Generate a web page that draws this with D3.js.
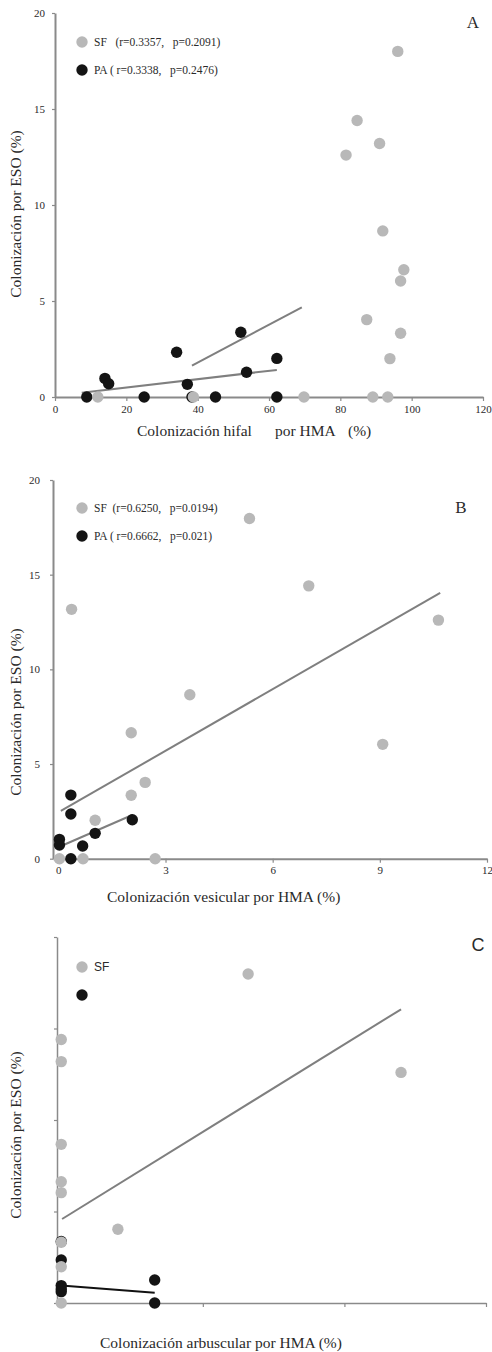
<!DOCTYPE html>
<html>
<head>
<meta charset="utf-8">
<script src="https://cdn.jsdelivr.net/npm/d3@7"></script>
<style>
  body { margin: 0; background: #fff; }
  svg { display: block; }
  .serif { font-family: "Liberation Serif", "Times New Roman", serif; fill: #2a2a2a; }
  .sans { font-family: "Liberation Sans", Arial, sans-serif; fill: #2a2a2a; }
  .pre { white-space: pre; }
</style>
</head>
<body>
<div id="chart"></div>
<script>
// ---- panel A: hifal ----
const sfAx = [96.1, 84.7, 91.0, 81.6, 91.9, 97.8, 96.9, 87.4, 96.9, 93.9, 12.0, 38.8, 69.8, 89.1, 93.3]
const sfAy = [18.0, 14.4, 13.2, 12.6, 8.65, 6.63, 6.04, 4.03, 3.32, 2.0, 0, 0, 0, 0, 0]
const paAx = [8.9, 14.0, 15.05, 25.0, 34.1, 37.1, 38.4, 45.0, 52.1, 53.7, 62.2, 62.2]
const paAy = [0, 0.97, 0.69, 0, 2.33, 0.66, 0, 0, 3.37, 1.29, 2.01, 0]
const fitSfA = [[38.4, 1.63], [69.2, 4.67]]
const fitPaA = [[7.5, 0.22], [62.2, 1.41]]
const ticksAx = [0, 20, 40, 60, 80, 100, 120]
const ticksAy = [0, 5, 10, 15, 20]

// ---- panel B: vesicular ----
const sfBx = [5.35, 0.37, 7.01, 10.64, 3.68, 2.04, 9.08, 2.43, 2.04, 1.03, 0.03, 0.69, 2.71]
const sfBy = [17.97, 13.17, 14.41, 12.6, 8.66, 6.65, 6.04, 4.03, 3.35, 2.03, 0, 0, 0]
const paBx = [0.35, 0.35, 2.07, 1.03, 0.03, 0.03, 0.68, 0.35]
const paBy = [3.36, 2.36, 2.06, 1.34, 1.02, 0.72, 0.67, 0]
const fitSfB = [[0.07, 2.52], [10.69, 14.04]]
const fitPaB = [[0.03, 0.63], [2.07, 2.31]]
const ticksBx = [0, 3, 6, 9, 12]
const ticksBy = [0, 5, 10, 15, 20]

// ---- panel C: arbuscular ----
const sfCx = [1.32, 0, 0, 2.4, 0, 0, 0, 0.4, 0, 0, 0]
const sfCy = [17.98, 14.4, 13.19, 12.6, 8.67, 6.63, 6.03, 4.03, 3.32, 1.98, 0]
const paCx = [0, 0, 0, 0, 0, 0.66, 0.66]
const paCy = [3.36, 2.35, 0.95, 0.77, 0.62, 1.26, 0]
const fitSfC = [[0.006, 4.59], [2.4, 16.05]]
const fitPaC = [[0, 0.95], [0.66, 0.56]]
const ticksCx = [1, 2, 3]
const ticksCy = [0, 5, 10, 15, 20]

const legendA = ["SF   (r=0.3357,   p=0.2091)", "PA ( r=0.3338,   p=0.2476)"]
const legendB = ["SF  (r=0.6250,   p=0.0194)", "PA ( r=0.6662,   p=0.021)"]
const legendC = ["SF", ""]

const GREY = "#b8b8b8"
const BLACK = "#141414"
const AXIS = "#8a8a8a"

const svg = d3.select("#chart").append("svg")
    .attr("width", 492)
    .attr("height", 1352)

function zip(xs, ys) {
    return xs.map((x, i) => [x, ys[i]])
}

function drawPanel(p) {
    let g = svg.append("g").attr("class", "panel-" + p.name)
    let x = d3.scaleLinear().domain(p.xDomain).range(p.xRange)
    let y = d3.scaleLinear().domain([0, 20]).range(p.yRange)

    let xAxis = d3.axisBottom(x).tickValues(p.xTicks).tickSizeInner(4).tickSizeOuter(0).tickPadding(4)
    let yAxis = d3.axisLeft(y).tickValues(p.yTicks).tickSizeInner(3).tickSizeOuter(0).tickPadding(p.yPad)
    if (!p.labels) {
        xAxis.tickFormat("")
        yAxis.tickFormat("")
    }

    let gx = g.append("g")
        .attr("transform", "translate(0," + p.yRange[0] + ")")
        .call(xAxis)
    let gy = g.append("g")
        .attr("transform", "translate(" + p.xRange[0] + ",0)")
        .call(yAxis)
    for (let ax of [gx, gy]) {
        ax.attr("font-family", null)
        ax.select(".domain").attr("stroke", AXIS).attr("stroke-width", p.axisWidth)
        ax.selectAll(".tick line").attr("stroke", AXIS).attr("stroke-width", 1.2)
        ax.selectAll(".tick text")
            .attr("class", "serif")
            .style("font-size", "11px")
            .attr("fill", "#2a2a2a")
    }

    let line = d3.line().x(d => x(d[0])).y(d => y(d[1]))
    g.append("path").attr("d", line(p.fitSf))
        .attr("fill", "none").attr("stroke", "#7f7f7f").attr("stroke-width", 2)
    g.append("path").attr("d", line(p.fitPa))
        .attr("fill", "none").attr("stroke", p.paLine).attr("stroke-width", 2)

    g.append("g").selectAll("circle")
        .data(zip(p.paX, p.paY))
        .join("circle")
        .attr("cx", d => x(d[0]))
        .attr("cy", d => y(d[1]))
        .attr("r", 5.7)
        .attr("fill", BLACK)
    g.append("g").selectAll("circle")
        .data(zip(p.sfX, p.sfY))
        .join("circle")
        .attr("cx", d => x(d[0]))
        .attr("cy", d => y(d[1]))
        .attr("r", 5.7)
        .attr("fill", GREY)

    // legend
    let lg = g.append("g").attr("transform", "translate(82," + p.legendY + ")")
    lg.selectAll("circle")
        .data([GREY, BLACK])
        .join("circle")
        .attr("cy", (d, i) => i * 28)
        .attr("r", 5.7)
        .attr("fill", d => d)
    lg.selectAll("text")
        .data(p.legend)
        .join("text")
        .attr("class", p.legendFont + " pre")
        .attr("x", 12)
        .attr("y", (d, i) => i * 28 + 4)
        .style("font-size", p.legendFont == "sans" ? "12px" : "11.5px")
        .text(d => d)

    g.append("text")
        .attr("class", p.letterFont)
        .attr("x", p.letterPos[0])
        .attr("y", p.letterPos[1])
        .attr("text-anchor", "middle")
        .style("font-size", p.letterFont == "sans" ? "18px" : "17px")
        .text(p.name)

    g.append("text")
        .attr("class", "serif")
        .attr("transform", "translate(" + 21 + "," + p.yTitleY + ") rotate(-90)")
        .attr("text-anchor", "middle")
        .style("font-size", "15.5px")
        .text("Colonización por ESO (%)")

    let tt = g.append("text")
        .attr("class", "serif")
        .attr("y", p.xTitleY)
        .style("font-size", "15.5px")
    for (let part of p.xTitle) {
        tt.append("tspan").attr("x", part[1]).text(part[0])
    }
}

drawPanel({
    name: "A", labels: true, axisWidth: 2, yPad: 7,
    xDomain: [0, 120], xRange: [55, 483], yRange: [397, 13],
    xTicks: ticksAx, yTicks: ticksAy,
    sfX: sfAx, sfY: sfAy, paX: paAx, paY: paAy,
    fitSf: fitSfA, fitPa: fitPaA, paLine: "#7f7f7f",
    legend: legendA, legendY: 42, legendFont: "serif",
    letterFont: "serif", letterPos: [473, 28],
    yTitleY: 214, xTitleY: 436,
    xTitle: [["Colonización hifal", 137], ["por HMA", 275], ["(%)", 348]]
})

drawPanel({
    name: "B", labels: true, axisWidth: 2, yPad: 10,
    xDomain: [-0.15, 12], xRange: [53, 487], yRange: [858.7, 480],
    xTicks: ticksBx, yTicks: ticksBy,
    sfX: sfBx, sfY: sfBy, paX: paBx, paY: paBy,
    fitSf: fitSfB, fitPa: fitPaB, paLine: "#7f7f7f",
    legend: legendB, legendY: 508, legendFont: "serif",
    letterFont: "serif", letterPos: [461, 513],
    yTitleY: 712, xTitleY: 902,
    xTitle: [["Colonización vesicular por HMA (%)", 107]]
})

drawPanel({
    name: "C", labels: false, axisWidth: 1.5, yPad: 4,
    xDomain: [-0.03, 3], xRange: [57, 486], yRange: [1303, 937],
    xTicks: ticksCx, yTicks: ticksCy,
    sfX: sfCx, sfY: sfCy, paX: paCx, paY: paCy,
    fitSf: fitSfC, fitPa: fitPaC, paLine: "#111",
    legend: legendC, legendY: 967, legendFont: "sans",
    letterFont: "sans", letterPos: [478, 951],
    yTitleY: 1135, xTitleY: 1348,
    xTitle: [["Colonización arbuscular por HMA (%)", 100]]
})
</script>
</body>
</html>
